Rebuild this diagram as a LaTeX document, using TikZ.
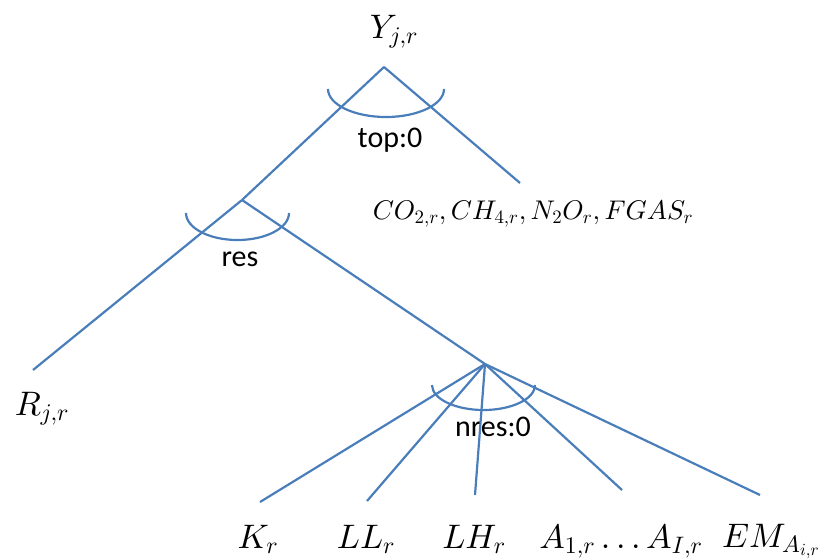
\documentclass[tikz,border=0pt]{standalone}
\usepackage{fontspec}
\setsansfont{Carlito}
\DeclareFontShape{OML}{cmm}{m}{it}{<->cmmi10}{}
\DeclareFontShape{OT1}{cmr}{m}{n}{<->cmr10}{}
\DeclareFontShape{OMS}{cmsy}{m}{n}{<->cmsy10}{}
\DeclareFontShape{OMX}{cmex}{m}{n}{<->cmex10}{}
\begin{document}
\begin{tikzpicture}[x=1pt,y=-1pt,
  edge/.style={draw=linecol,line width=2.2pt},
  arcline/.style={draw=linecol,line width=2.2pt},
  mlab/.style={anchor=base,inner sep=0pt,font=\fontsize{34}{40}\selectfont},
  glab/.style={anchor=base,inner sep=0pt,font=\fontsize{27}{32}\selectfont},
  slab/.style={anchor=center,inner sep=0pt,font=\sffamily\fontsize{30}{34}\selectfont}]
\definecolor{linecol}{RGB}{74,126,187}
\useasboundingbox (0,0) rectangle (824,558);
% junctions
\coordinate (top) at (384,67);
\coordinate (res) at (242,200);
\coordinate (nres) at (485,364);
\coordinate (gasend) at (520,183);
\coordinate (rend) at (33,370);
\coordinate (kend) at (260,502);
\coordinate (llend) at (367,501);
\coordinate (lhend) at (475,495);
\coordinate (aend) at (622,490);
\coordinate (emend) at (760,495);
% labels
\node[mlab] (Y) at (394,38) {$Y_{j,r}$};
\node[mlab] (R) at (42,415) {$R_{j,r}$};
\node[glab] (gas) at (533,219) {$CO_{2,r},CH_{4,r},N_2O_r,FGAS_r$};
\node[mlab] (K) at (258,548) {$K_r$};
\node[mlab] (LL) at (366,548) {$LL_r$};
\node[mlab] (LH) at (474,548) {$LH_r$};
\node[mlab] (A) at (621,548) {$A_{1,r}\ldots A_{I,r}$};
\node[mlab] (EM) at (771,547) {$EM_{A_{i,r}}$};
\node[slab] (ltop) at (390,140) {top:0};
\node[slab] (lres) at (240,259) {res};
\node[slab] (lnres) at (493,427) {nres:0};
% edges
\draw[edge] (top) -- (res);
\draw[edge] (res) -- (rend);
\draw[edge] (top) -- (gasend);
\draw[edge] (res) -- (nres);
\draw[edge] (nres) -- (kend);
\draw[edge] (nres) -- (llend);
\draw[edge] (nres) -- (lhend);
\draw[edge] (nres) -- (aend);
\draw[edge] (nres) -- (emend);
% arcs
\draw[arcline] (328,89) arc[start angle=180,end angle=360,x radius=58,y radius=-28];
\draw[arcline] (186,213) arc[start angle=180,end angle=360,x radius=51.5,y radius=-27];
\draw[arcline] (432,385) arc[start angle=180,end angle=360,x radius=51.5,y radius=-25];
\end{tikzpicture}
\end{document}
